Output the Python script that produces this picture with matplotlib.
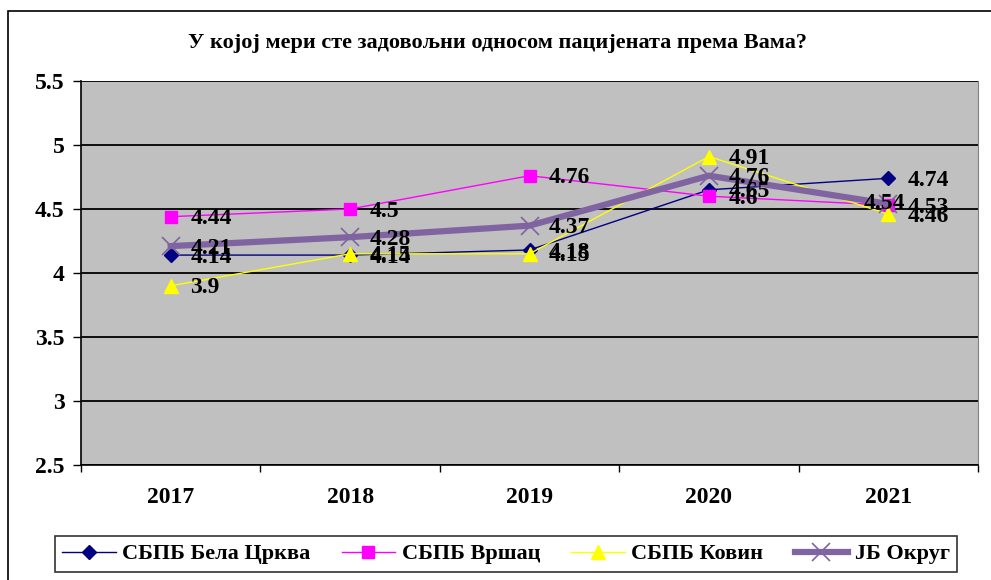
import matplotlib
matplotlib.use("Agg")
import matplotlib.pyplot as plt
from matplotlib.patches import Rectangle

years = ["2017", "2018", "2019", "2020", "2021"]
bela_crkva = [4.14, 4.14, 4.18, 4.65, 4.74]
vrsac = [4.44, 4.5, 4.76, 4.6, 4.53]
kovin = [3.9, 4.15, 4.15, 4.91, 4.46]
okrug = [4.21, 4.28, 4.37, 4.76, 4.54]
series_names = ["СБПБ Бела Црква", "СБПБ Вршац", "СБПБ Ковин", "ЈБ Округ"]
title = "У којој мери сте задовољни односом пацијената према Вама?"
yticks = [2.5, 3, 3.5, 4, 4.5, 5, 5.5]
ytick_labels = ["2.5", "3", "3.5", "4", "4.5", "5", "5.5"]

plt.rcParams['font.family'] = ['Liberation Serif', 'DejaVu Serif']
plt.rcParams['font.weight'] = 'bold'

W, H = 991, 580
fig = plt.figure(figsize=(W / 100, H / 100), dpi=100)

# outer chart frame (extends beyond right/bottom edges)
fig.patches.append(Rectangle((8 / W, -0.1), 1.2, 1 - 11 / H + 0.1, transform=fig.transFigure,
                             fill=False, edgecolor='black', linewidth=1.2, figure=fig))

ax = fig.add_axes([81 / W, 1 - 465 / H, (978 - 81) / W, (465 - 81) / H])
ax.set_facecolor('#C0C0C0')

x = list(range(len(years)))
ax.set_xlim(-0.5, len(years) - 0.5)
ax.set_ylim(2.5, 5.5)

for yv in yticks:
    ax.axhline(yv, color='#000000', linewidth=1.3, zorder=1)

styles = [
    dict(color='#000080', marker='D', markersize=7, linewidth=1.0, mfc='#000080', mec='#000080'),
    dict(color='#FF00FF', marker='s', markersize=9, linewidth=1.0, mfc='#FF00FF', mec='#FF00FF'),
    dict(color='#FFFF00', marker='^', markersize=10, linewidth=1.0, mfc='#FFFF00', mec='#FFFF00'),
    dict(color='#8064A2', marker='x', markersize=13, linewidth=4.5, mew=1.2, mfc='#8064A2', mec='#8064A2'),
]
data = [bela_crkva, vrsac, kovin, okrug]
handles = []
for vals, st, name in zip(data, styles, series_names):
    h, = ax.plot(x, vals, zorder=3, label=name, **st)
    handles.append(h)

# data labels
for si, vals in enumerate(data):
    for i, v in enumerate(vals):
        if si == 3 and i == 4:
            off, ha = (-3, 0), 'center'
        else:
            off, ha = (14, -1.5), 'left'
        ax.annotate(f"{v:g}", (i, v), xytext=off, textcoords='offset points',
                    ha=ha, va='center', fontsize=17, fontweight='bold', color='black', zorder=5)

ax.set_yticks(yticks)
ax.set_yticklabels(ytick_labels, fontsize=17, fontweight='bold')
ax.set_xticks(x)
ax.set_xticklabels(years, fontsize=17, fontweight='bold')
ax.tick_params(axis='x', length=0, pad=16)
ax.set_xticks([i - 0.5 for i in range(len(years) + 1)], minor=True)
ax.tick_params(axis='x', which='minor', length=5, width=1, direction='out')
ax.tick_params(axis='y', length=6, width=1, direction='out', pad=6)

ax.spines['top'].set_visible(False)
ax.spines['right'].set_color('#808080')
ax.spines['left'].set_linewidth(1.2)
ax.spines['bottom'].set_linewidth(1.2)

fig.text(498 / W, 1 - 43 / H, title, ha='center', va='center', fontsize=16, fontweight='bold')

leg = fig.legend(handles=handles, loc='center', bbox_to_anchor=(506 / W, 1 - 554 / H),
                 ncol=4, frameon=True, fancybox=False, edgecolor='black',
                 prop={'size': 16, 'weight': 'bold'}, handlelength=2.4, columnspacing=1.4,
                 borderpad=0.35, handletextpad=0.3)
leg.get_frame().set_linewidth(1.2)

fig.savefig("out.png", dpi=100)
